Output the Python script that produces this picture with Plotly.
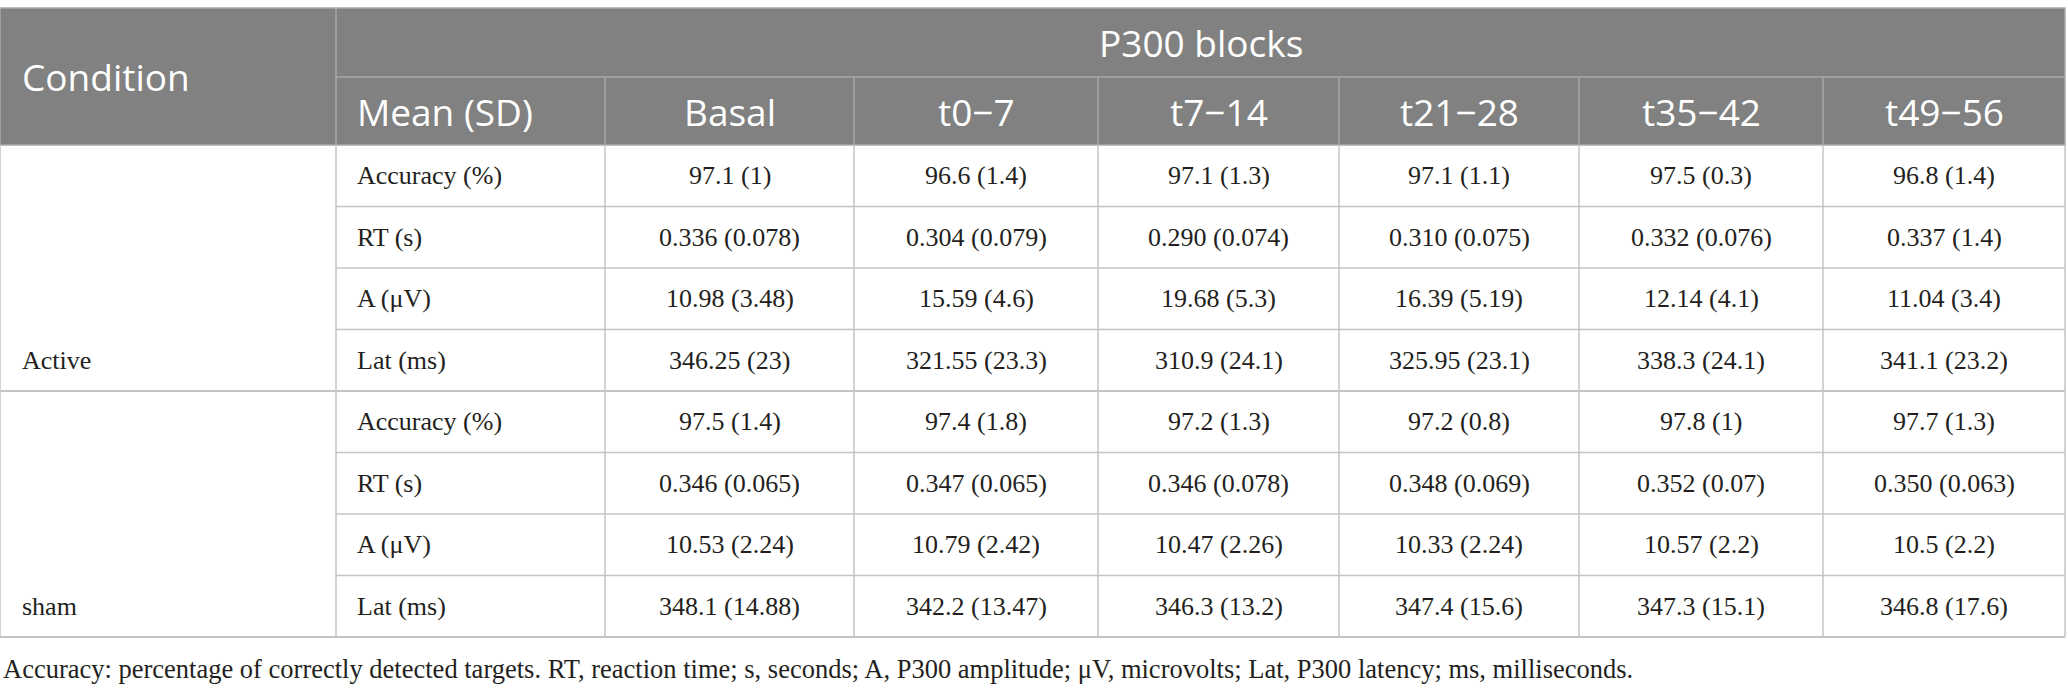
import plotly.graph_objects as go

# Dados da tabela (média (DP) por bloco P300)
condicoes = ["Active", "sham"]
medidas = ["Accuracy (%)", "RT (s)", "A (μV)", "Lat (ms)"]
blocos = ["Basal", "t0−7", "t7−14", "t21−28", "t35−42", "t49−56"]

active_accuracy = ["97.1 (1)", "96.6 (1.4)", "97.1 (1.3)", "97.1 (1.1)", "97.5 (0.3)", "96.8 (1.4)"]
active_rt = ["0.336 (0.078)", "0.304 (0.079)", "0.290 (0.074)", "0.310 (0.075)", "0.332 (0.076)", "0.337 (1.4)"]
active_amp = ["10.98 (3.48)", "15.59 (4.6)", "19.68 (5.3)", "16.39 (5.19)", "12.14 (4.1)", "11.04 (3.4)"]
active_lat = ["346.25 (23)", "321.55 (23.3)", "310.9 (24.1)", "325.95 (23.1)", "338.3 (24.1)", "341.1 (23.2)"]

sham_accuracy = ["97.5 (1.4)", "97.4 (1.8)", "97.2 (1.3)", "97.2 (0.8)", "97.8 (1)", "97.7 (1.3)"]
sham_rt = ["0.346 (0.065)", "0.347 (0.065)", "0.346 (0.078)", "0.348 (0.069)", "0.352 (0.07)", "0.350 (0.063)"]
sham_amp = ["10.53 (2.24)", "10.79 (2.42)", "10.47 (2.26)", "10.33 (2.24)", "10.57 (2.2)", "10.5 (2.2)"]
sham_lat = ["348.1 (14.88)", "342.2 (13.47)", "346.3 (13.2)", "347.4 (15.6)", "347.3 (15.1)", "346.8 (17.6)"]

titulo_condicao = "Condition"
titulo_blocos = "P300 blocks"
titulo_medida = "Mean (SD)"
nota = ("Accuracy: percentage of correctly detected targets. RT, reaction time; s, seconds; "
        "A, P300 amplitude; μV, microvolts; Lat, P300 latency; ms, milliseconds.")

valores = {
    "Active": [active_accuracy, active_rt, active_amp, active_lat],
    "sham": [sham_accuracy, sham_rt, sham_amp, sham_lat],
}

# Geometria (pixels)
W, H = 2068, 696
col_x = [0, 336, 605, 854, 1098, 1339, 1579, 1823, 2065]
y_topo, y_meio, y_cab = 8, 77, 145
alt_linha = 61.5
n_linhas = len(condicoes) * len(medidas)
y_fim = y_cab + alt_linha * n_linhas

cinza_cab = "#808180"
linha_cab = "#a8a9a8"
linha_corpo = "#c4c4c4"
cor_texto = "#231f20"
fonte_cab = dict(family="Open Sans", size=37, color="white")
fonte_corpo = dict(family="Liberation Serif", size=26, color=cor_texto)

fig = go.Figure()
shapes = []
anots = []

# Cabeçalho
shapes.append(dict(type="rect", x0=0, x1=col_x[-1], y0=y_topo, y1=y_cab,
                   fillcolor=cinza_cab, line=dict(color=linha_cab, width=1.5), layer="below"))
shapes.append(dict(type="line", x0=col_x[1], x1=col_x[-1], y0=y_meio, y1=y_meio,
                   line=dict(color=linha_cab, width=1.5)))
shapes.append(dict(type="line", x0=col_x[1], x1=col_x[1], y0=y_topo, y1=y_cab,
                   line=dict(color=linha_cab, width=1.5)))
for x in col_x[2:-1]:
    shapes.append(dict(type="line", x0=x, x1=x, y0=y_meio, y1=y_cab,
                       line=dict(color=linha_cab, width=1.5)))

anots.append(dict(x=20, y=(y_topo + y_cab) / 2, text=titulo_condicao, xanchor="left",
                  yanchor="middle", font=fonte_cab))
anots.append(dict(x=(col_x[1] + col_x[-1]) / 2, y=(y_topo + y_meio) / 2, text=titulo_blocos,
                  xanchor="center", yanchor="middle", font=fonte_cab))
anots.append(dict(x=col_x[1] + 19, y=(y_meio + y_cab) / 2, text=titulo_medida, xanchor="left",
                  yanchor="middle", font=fonte_cab))
for j, b in enumerate(blocos):
    anots.append(dict(x=(col_x[j + 2] + col_x[j + 3]) / 2, y=(y_meio + y_cab) / 2, text=b,
                      xanchor="center", yanchor="middle", font=fonte_cab))

# Corpo
for k, cond in enumerate(condicoes):
    for i, med in enumerate(medidas):
        r = k * len(medidas) + i
        y0 = y_cab + alt_linha * r
        y1 = y0 + alt_linha
        yc = (y0 + y1) / 2
        ultima = i == len(medidas) - 1
        shapes.append(dict(type="line", x0=0 if ultima else col_x[1], x1=col_x[-1], y0=y1, y1=y1,
                           line=dict(color=linha_corpo, width=2 if ultima else 1.5)))
        anots.append(dict(x=col_x[1] + 19, y=yc, text=med, xanchor="left", yanchor="middle",
                          font=fonte_corpo))
        for j, v in enumerate(valores[cond][i]):
            anots.append(dict(x=(col_x[j + 2] + col_x[j + 3]) / 2, y=yc, text=v,
                              xanchor="center", yanchor="middle", font=fonte_corpo))
        if ultima:
            anots.append(dict(x=20, y=yc, text=cond, xanchor="left", yanchor="middle",
                              font=fonte_corpo))

for x in col_x:
    shapes.append(dict(type="line", x0=x, x1=x, y0=y_cab, y1=y_fim,
                       line=dict(color=linha_corpo, width=1.5)))

# Nota de rodapé
anots.append(dict(x=1, y=669, text=nota, xanchor="left", yanchor="middle",
                  font=dict(family="Liberation Serif", size=26.5, color=cor_texto)))

for a in anots:
    a.update(xref="x", yref="y", showarrow=False)

fig.update_layout(
    width=W, height=H,
    margin=dict(l=0, r=0, t=0, b=0),
    paper_bgcolor="white", plot_bgcolor="white",
    shapes=shapes, annotations=anots,
    xaxis=dict(range=[0, W], visible=False, fixedrange=True),
    yaxis=dict(range=[H, 0], visible=False, fixedrange=True),
    showlegend=False,
)

fig.write_html("out.html", config={"displayModeBar": False},
               post_script="document.body.style.margin='0';document.body.style.overflow='hidden';")
